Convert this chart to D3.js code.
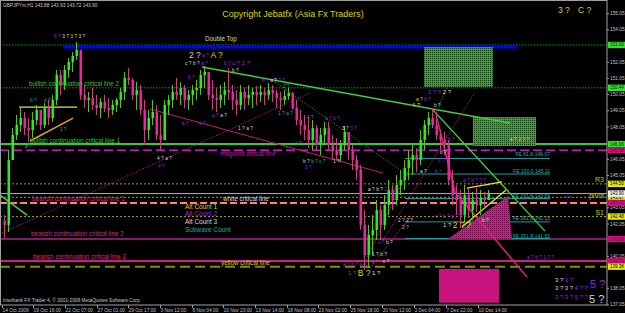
<!DOCTYPE html>
<html><head><meta charset="utf-8">
<script src="https://cdn.jsdelivr.net/npm/d3@7"></script>
<style>html,body{margin:0;padding:0;background:#000;}svg{display:block;font-family:"Liberation Sans",Arial,sans-serif;}</style>
</head><body><svg id="c" width="625" height="313"></svg>
<script>
// ---------------- DATA ----------------
const highs = [142.57,146.59,147.95,148.76,149.19,148.94,148.57,148.94,149.38,148.94,
149.50,149.69,150.00,151.54,151.54,151.85,152.28,152.65,153.27,152.47,
150.61,150.18,150.43,150.00,149.81,150.00,149.81,149.69,149.81,150.43,
151.42,151.66,151.05,150.80,150.61,149.69,149.07,149.69,149.38,148.76,
149.69,150.00,150.61,151.05,150.80,150.61,150.30,150.61,150.92,151.54,
151.79,151.42,150.92,150.43,150.61,150.80,151.66,150.61,150.30,150.61,
150.43,150.61,150.43,150.55,150.61,150.43,150.74,150.61,150.30,150.18,
150.30,150.43,150.18,149.69,149.07,148.76,148.57,148.45,148.14,147.95,
148.33,148.33,147.52,147.34,147.21,148.08,147.71,146.90,146.28,145.67,
142.88,141.96,142.57,143.50,143.19,143.81,144.74,144.43,145.05,145.36,
145.97,146.59,146.90,146.72,147.83,148.45,148.94,149.19,148.94,147.83,
147.71,147.21,145.36,144.43,144.12,144.43,144.24,144.00,144.24,144.12,
144.00,144.12];
const lows = [141.15,141.52,145.97,147.21,147.71,147.52,147.09,147.34,148.14,147.83,
147.95,148.14,148.33,149.38,150.00,150.30,151.05,151.42,152.16,149.69,
149.19,148.94,149.07,148.76,148.57,148.94,148.57,148.76,148.94,149.19,
149.69,150.61,149.69,149.07,148.76,146.90,147.21,148.14,147.21,146.59,
147.52,148.76,149.19,149.69,149.38,149.19,149.07,149.38,149.69,150.00,
150.43,149.69,149.07,148.94,149.19,149.38,149.69,149.07,148.76,149.07,
149.07,149.38,149.19,149.38,149.56,149.38,149.69,149.56,149.19,149.07,
149.38,149.69,149.07,148.14,147.52,147.21,146.72,146.59,146.59,146.28,
146.90,146.59,145.97,145.97,145.85,146.59,145.97,145.36,144.74,141.65,
139.17,139.30,140.10,141.03,141.03,141.65,142.57,142.88,143.19,143.81,
144.12,144.74,145.05,145.23,145.67,146.59,147.52,147.95,147.21,146.59,
146.28,144.43,143.19,142.57,141.77,142.14,142.39,142.27,142.76,142.57,
143.01,143.50];
const closes = [141.96,145.97,147.52,148.14,148.57,147.95,147.83,148.45,149.07,148.14,
149.19,148.57,149.69,151.23,150.61,151.54,152.04,152.41,152.78,150.00,
149.69,149.81,149.38,149.19,149.56,149.19,149.07,149.38,149.69,150.18,
151.05,150.92,150.00,150.30,149.07,147.83,148.57,148.94,147.52,147.21,
149.38,149.69,150.18,150.00,150.43,149.69,150.00,150.30,150.43,151.23,
151.42,150.00,149.81,149.69,150.00,150.30,150.18,149.69,149.38,150.18,
149.81,150.00,150.18,150.00,150.18,150.00,150.30,150.12,149.81,149.69,
149.93,150.12,149.19,148.45,148.14,147.83,147.21,147.95,146.90,147.52,
147.95,146.90,146.59,146.28,146.90,147.71,146.59,145.97,145.36,141.96,
140.10,141.34,141.65,142.88,141.96,143.19,144.12,143.50,144.43,144.74,
145.48,145.97,146.28,145.97,147.21,148.14,148.57,148.14,147.52,147.21,
146.90,144.74,143.81,143.50,142.57,143.81,142.88,143.50,143.19,143.63,
143.50,143.90];
const firstOpen = 142.20;

const dateTickIdx = [-0.5,7.25,15.25,23.25,31,39,47,54.75,62.75,70.75,78.5,86.5,94.5,102.5,110.5,118.5];
const dateTickLabels = ["14 Oct 2009","19 Oct 16:00","22 Oct 07:00","27 Oct 01:00","29 Oct 17:00","3 Nov 12:00","6 Nov 04:00","10 Nov 23:00","13 Nov 14:00","18 Nov 08:00","23 Nov 02:00","25 Nov 18:00","30 Nov 12:00","3 Dec 04:00","7 Dec 22:00","10 Dec 14:00"];
const priceTicks = [155.05,154.05,152.05,151.05,150.05,149.05,148.05,146.05,145.05,143.05,142.05,140.05,138.05,137.05];

// horizontal levels: name, price
const levelNames  = ["doubleTop","bull2","bull1","magenta","R3","white","pivot","bear1","S1","bear2","bear3","yellow"];
const levelPrices = [153.09,150.44,146.96,146.58,144.50,143.90,143.67,143.32,142.48,141.09,139.73,139.38];
// Fibonacci expansion levels
const feLabels = ["FE 61.8-146.07","FE 100.0-145.11","FE 161.8-143.59","FE 261.8-142.15","FE 261.8-141.62"];
const fePrices = [146.07,145.11,143.59,142.15,141.12];
const feLabelPrices = [146.35,145.30,143.75,142.39,141.28];
// axis price tags: price, kind
const axisTagPrices = [153.09,150.44,146.96,146.58,144.50,143.67,143.90,143.32,142.48,141.09,139.73,139.38];
const axisTagKinds  = ["g","g","g","m","y","y","w","m","y","m","m","y"];

// text objects: text, bar index, price, colour key
const lineTexts = [
 ["Double Top",50.25,153.46,"k"],
 ["bullish continuation critical line 2",6.25,150.68,"g"],
 ["bullish continuation critical line 1",6.5,147.21,"g"],
 ["magenta critical line",54,146.35,"m"],
 ["white critical line",54.75,143.59,"w"],
 ["bearish continuation critical line 1",7,143.59,"r"],
 ["bearish continuation critical line 2",6.75,141.46,"r"],
 ["bearish continuation critical line 3",7.25,139.98,"r"],
 ["yellow critical line",54.25,139.61,"y"],
 ["Alt Count 1",45.25,143.13,"y"],
 ["Alt Count 2",45.25,142.68,"p"],
 ["Alt Count 3",45.25,142.20,"w"],
 ["Subwave Count",45.25,141.69,"t"]
];
const pivotTexts = [["R3",144.80],["pivot",143.77],["S1",142.76]];

// wave count labels: bar index, price, segments [text, colour key, size key]
const waveGroups = [
 [12.5,153.64,[["5 ?","p",0],["3 ?","w",0],["3 ?","y",0],["3 ?","w",0]]],
 [6.5,149.69,[["b ?","t",0]]],[10,149.69,[["d ?","t",0]]],
 [5.25,146.84,[["a ?","t",0]]],[14,147.89,[["1 ?","t",0]]],
 [46.25,152.47,[["2 ?","w",2],["a ?","p",0],["A ?","y",2]]],
 [45.25,151.97,[["c ?","w",0],["b ?","w",0],["a ?","p",0]]],
 [55,151.97,[["b ?","p",0],["c ?","p",1],["2 ?","p",1]]],
 [57,151.54,[["b ?","w",0]]],[46,151.11,[["b ?","p",0]]],
 [44.5,148.26,[["a ?","p",0]]],[48.75,148.26,[["a ?","p",0]]],
 [64.5,150.92,[["b ?","p",0],["a ?","w",0],["? ?","p",0]]],[69.75,150.55,[["2 ?","t",0]]],
 [38.25,146.10,[["4 ?","w",0],["a ?","w",0]]],[38.5,145.60,[["4 ?","p",0]]],
 [52,148.76,[["a ?","p",0],["a ?","w",0]]],
 [58.5,147.95,[["1 ?","w",0],["a ?","w",0]]],
 [68.5,148.88,[["1 ?","t",0],["a ?","t",0]]],[75.75,148.63,[["4 ?","t",0]]],
 [80.25,148.57,[["a ?","p",0],["b ?","p",0]]],
 [84.5,147.95,[["3 ?","w",0],["3 ?","p",0]]],
 [72.75,147.03,[["a ?","t",0]]],[78.5,147.03,[["b ?","t",0]]],
 [74.75,145.91,[["b ?","w",0],["b ?","t",0],["c ?","t",0]]],[82.25,145.91,[["1 ?","w",0]]],
 [75.25,145.55,[["3 ?","p",0]]],
 [91,144.18,[["a ?","w",0],["b ?","w",0],["1 ?","p",0],["1 ?","p",0]]],
 [98.5,142.27,[["2 ?","w",0],["2 ?","w",0]]],[99.5,141.83,[["2 ?","y",0]]],
 [93.5,140.91,[["c ?","p",0],["b ?","w",0]]],
 [92,140.16,[["1 ?","w",0],["b ?","w",0]]],
 [84.75,139.54,[["a ?","p",0],["b ?","p",0],["a ?","p",0],["c ?","p",0]]],
 [86,139.0,[["1 ?","p",1],["B ?","y",2],["1 ?","w",1]]],
 [94.75,139.73,[["c ?","w",0]]],
 [102,149.37,[["4 ?","y",1]]],
 [103,149.75,[["a ?","y",0],["b ?","p",0]]],
 [106,150.18,[["2 ?","p",1],["?","p",1],["2 ?","w",1]]],
 [107.5,149.38,[["b ?","w",0]]],[111,147.27,[["b ?","p",0]]],
 [109,146.47,[["b ?","w",0]]],[108.5,145.97,[["1 ?","p",0]]],
 [104,145.30,[["a ?","w",0]]],[107.75,145.30,[["b ?","p",0]]],
 [114.75,144.74,[["a ?","p",0],["b ?","p",0],["? ?","p",0]]],
 [107.75,142.51,[["c ?","p",0],["b ?","p",0],["a ?","p",0]]],
 [109.75,141.96,[["1 ?","w",1],["2 ?","y",2],["?","y",2]]],
 [119.5,142.27,[["b ?","w",0]]],
 [126.5,147.27,[["e ?","w",0],["2 ?","y",0],["?","y",0]]],
 [140.25,143.63,[["? ?","p",0]]],
 [130.75,139.97,[["a ?","p",0],["b ?","p",0],["1 ?","p",0],["?","p",0]]],
 [137.75,138.55,[["3 ?","w",1],["3 ?","p",1]]],
 [137.75,138.06,[["3 ?","w",1],["3 ?","w",1],["4 ?","p",1],["?","p",1]]],
 [146.5,138.28,[["5 ?","p",3]]],
 [137.75,137.50,[["3 ?","p",1],["3 ?","p",1],["5 ?","p",1],["?","p",1]]],
 [146.25,137.41,[["5 ?","w",3]]],
 [138.5,155.25,[["3 ?","y",2]]],[143.5,155.25,[["C ?","y",2]]]
];

// trend lines: [barIndex1, price1, barIndex2, price2, style key]
const trendLines = [
 [49.5,151.73,126.5,148.26,"greenSolid"],
 [107.25,149.07,135.25,141.58,"greenSolidThin"],
 [108.25,148.57,112.75,144.00,"pink"],
 [112.75,144.00,130.75,138.74,"pink"],
 [115.75,144.24,124.5,144.62,"yellow"],
 [114.5,141.83,125.5,144.12,"yellow"],
 [3.75,149.25,18.25,149.25,"yellow"],
 [6.5,147.15,17.25,148.57,"orange"],
 [-0.5,141.46,76.5,150.12,"pinkDot"],
 [94.75,141.03,117.75,150.18,"pinkDot"],
 [91.5,139.30,102,142.60,"pinkDot"],
 [36.5,149.13,94.75,145.17,"pinkThin"],
 [67.75,150.80,101.5,144.92,"greenDot"],
 [89.5,139.30,111,150.55,"greenDot"],
 [-1,143.81,5.75,142.57,"greenSolid"]
];
// rectangles: bar index range, price range, fill key
const boxes = [
 [105,122.25,152.96,150.49,"g"],
 [117.25,133,148.63,146.84,"g"],
 [108.75,123.75,139.24,137.15,"m"]
];
const blueBarRange = [14.75,128.25];
const triangle = [[111,141.09],[127,141.09],[126,143.75]];

// ---------------- DRAW ----------------
const svg = d3.select("#c");
const W = 625, H = 313, R = 607, B = 305;
const x = d3.scaleLinear().domain([0,121]).range([4,488]);
const y = d3.scaleLinear().domain([155.87,137.01]).range([0,B]);
const col = {p:"#a020e0",w:"#d8d8d8",t:"#20a8a8",y:"#d8d800",g:"#30c030",m:"#d000d0",r:"#d0307a",k:"#d8d890"};
const sz = [4.8,6,8.5,11];

const defs = svg.append("defs");
const pg = defs.append("pattern").attr("id","gdots").attr("width",2).attr("height",2).attr("patternUnits","userSpaceOnUse");
pg.append("rect").attr("width",2).attr("height",2).attr("fill","#33a533");
pg.append("rect").attr("width",1).attr("height",1).attr("fill","#0c440c");
const pm = defs.append("pattern").attr("id","mdots").attr("width",2).attr("height",2).attr("patternUnits","userSpaceOnUse");
pm.append("rect").attr("width",2).attr("height",2).attr("fill","#d0168a");
pm.append("rect").attr("width",1).attr("height",1).attr("fill","#7a0a50");

svg.append("rect").attr("width",W).attr("height",H).attr("fill","#000");
defs.append("clipPath").attr("id","plot").append("rect").attr("x",0).attr("y",0).attr("width",R).attr("height",B);
const g = svg.append("g").attr("clip-path","url(#plot)");

svg.append("text").attr("x",3).attr("y",6.5).attr("font-size",4.8).attr("fill","#c8c8c8")
  .text("GBPJPYm,H1  143.88 143.93 143.72 143.90");
svg.append("text").attr("x",293).attr("y",17).attr("text-anchor","middle").attr("font-size",9)
  .attr("fill","#d8d800").text("Copyright Jebatfx (Asia Fx Traders)");

const levelStyle = {
 doubleTop:{c:"#10a010",w:1,d:"1.5,1.5"}, bull2:{c:"#10a010",w:1,d:"1.5,1.5"},
 bull1:{c:"#3ac83a",w:2,d:null}, magenta:{c:"#c020c0",w:1.5,d:"9,4"},
 R3:{c:"#a0a000",w:1,d:"2,2"}, white:{c:"#b0b0b0",w:1,d:null}, pivot:{c:"#a0a000",w:1,d:"2,2"},
 bear1:{c:"#ff8080",w:2,d:"7,3"}, S1:{c:"#a0a000",w:1,d:"2,2"},
 bear2:{c:"#b0208f",w:1.5,d:null}, bear3:{c:"#d01f80",w:2,d:null}, yellow:{c:"#8a8a00",w:2,d:"10,5"}
};
levelNames.forEach((n,i)=>{
  const s = levelStyle[n];
  g.append("line").attr("x1",0).attr("x2",R).attr("y1",y(levelPrices[i])).attr("y2",y(levelPrices[i]))
   .attr("stroke",s.c).attr("stroke-width",s.w).attr("stroke-dasharray",s.d);
});
g.append("rect").attr("x",x(blueBarRange[0])).attr("width",x(blueBarRange[1])-x(blueBarRange[0]))
  .attr("y",y(153.09)+0.5).attr("height",3).attr("fill","#0000ff");
fePrices.forEach((p,i)=>{
  g.append("line").attr("x1",x(100.25)).attr("x2",x(136.5)).attr("y1",y(p)).attr("y2",y(p))
   .attr("stroke","#1e9e9e").attr("stroke-width",1);
  g.append("text").attr("x",x(136.5)).attr("y",y(feLabelPrices[i])).attr("text-anchor","end")
   .attr("dominant-baseline","central").attr("font-size",5).attr("fill","#20b0b0").text(feLabels[i]);
});
boxes.forEach(b=>{
  g.append("rect").attr("x",x(b[0])).attr("width",x(b[1])-x(b[0])).attr("y",y(b[2])).attr("height",y(b[3])-y(b[2]))
   .attr("fill", b[4]==="g" ? "url(#gdots)" : "#c8127e");
});
g.append("path").attr("d", d3.line().x(d=>x(d[0])).y(d=>y(d[1]))(triangle)+"Z").attr("fill","url(#mdots)");

const tls = {
 greenSolid:{c:"#40d040",w:1.5,d:null}, greenSolidThin:{c:"#40d040",w:1.2,d:null},
 pink:{c:"#e0207a",w:1.5,d:null}, yellow:{c:"#e8e820",w:1.2,d:null}, orange:{c:"#e0a020",w:1.5,d:null},
 pinkDot:{c:"#c03090",w:1,d:"1,1.5"}, pinkThin:{c:"#c02070",w:1,d:null}, greenDot:{c:"#109010",w:1,d:"1.5,1.5"}
};
trendLines.forEach(t=>{
  const s = tls[t[4]];
  g.append("line").attr("x1",x(t[0])).attr("y1",y(t[1])).attr("x2",x(t[2])).attr("y2",y(t[3]))
   .attr("stroke",s.c).attr("stroke-width",s.w).attr("stroke-dasharray",s.d);
});

const bars = g.append("g");
closes.forEach((c,i)=>{
  const o = i===0 ? firstOpen : closes[i-1];
  const up = c>=o;
  bars.append("line").attr("x1",x(i)+0.5).attr("x2",x(i)+0.5).attr("y1",y(highs[i])).attr("y2",y(lows[i]))
    .attr("stroke", up ? "#60c010" : "#c84080").attr("stroke-width",1);
  const top = y(Math.max(o,c)), bot = y(Math.min(o,c));
  bars.append("rect").attr("x",x(i)-0.5).attr("width",2.5).attr("y",top).attr("height",Math.max(1,bot-top))
    .attr("fill", up ? "#20f020" : "#f020a0");
});

lineTexts.forEach(t=>{
  const big = t[0].startsWith("Alt")||t[0].startsWith("Sub");
  g.append("text").attr("x",x(t[1])).attr("y",y(t[2])).attr("dominant-baseline","central")
   .attr("font-size", big?6.5:6.3).attr("fill",col[t[3]]).text(t[0]);
});
pivotTexts.forEach(t=>{
  g.append("text").attr("x",R-3).attr("y",y(t[1])).attr("text-anchor","end").attr("dominant-baseline","central")
   .attr("font-size",7).attr("fill","#c8c800").text(t[0]);
});
waveGroups.forEach(w=>{
  const t = g.append("text").attr("x",x(w[0])).attr("y",y(w[1])).attr("dominant-baseline","central");
  w[2].forEach((s,k)=>{
    t.append("tspan").attr("dx",k?1.5:0).attr("font-size",sz[s[2]]).attr("fill",col[s[1]]).text(s[0]);
  });
});

svg.append("text").attr("x",3).attr("y",301.5).attr("font-size",4.8).attr("fill","#c8c8c8")
  .text("Interbank FX Trader 4, © 2001-2008 MetaQuotes Software Corp.");

svg.append("rect").attr("x",0.5).attr("y",0.5).attr("width",R-0.5).attr("height",B-0.5)
  .attr("fill","none").attr("stroke","#a0a0a0").attr("stroke-width",1);
const ya = svg.append("g").attr("transform",`translate(${R},0)`)
  .call(d3.axisRight(y).tickValues(priceTicks).tickFormat(d3.format(".2f")).tickSize(2).tickPadding(1));
ya.select(".domain").remove();
ya.selectAll("line").attr("stroke","#a0a0a0");
ya.selectAll("text").attr("fill","#c0c0c0").attr("font-size",4.8).attr("font-family","Liberation Sans, Arial");
const xa = svg.append("g").attr("transform",`translate(0,${B})`)
  .call(d3.axisBottom(x).tickValues(dateTickIdx).tickFormat((d,i)=>dateTickLabels[i]).tickSize(3).tickPadding(1));
xa.select(".domain").remove();
xa.selectAll("line").attr("stroke","#a0a0a0");
xa.selectAll("text").attr("fill","#c0c0c0").attr("font-size",4.8).attr("text-anchor","start").attr("font-family","Liberation Sans, Arial");

const tagStyle = {g:["#30e030","#003000"],m:["#c8107a","#80004a"],y:["#e8e800","#000"],w:["#f0f0f0","#000"]};
axisTagPrices.forEach((p,i)=>{
  const s = tagStyle[axisTagKinds[i]];
  svg.append("rect").attr("x",R+1).attr("y",y(p)-3.2).attr("width",W-R-1).attr("height",6.4).attr("fill",s[0]);
  svg.append("text").attr("x",R+3).attr("y",y(p)).attr("dominant-baseline","central").attr("font-size",4.5)
   .attr("fill",s[1]).text(d3.format(".2f")(p));
});
</script></body></html>
